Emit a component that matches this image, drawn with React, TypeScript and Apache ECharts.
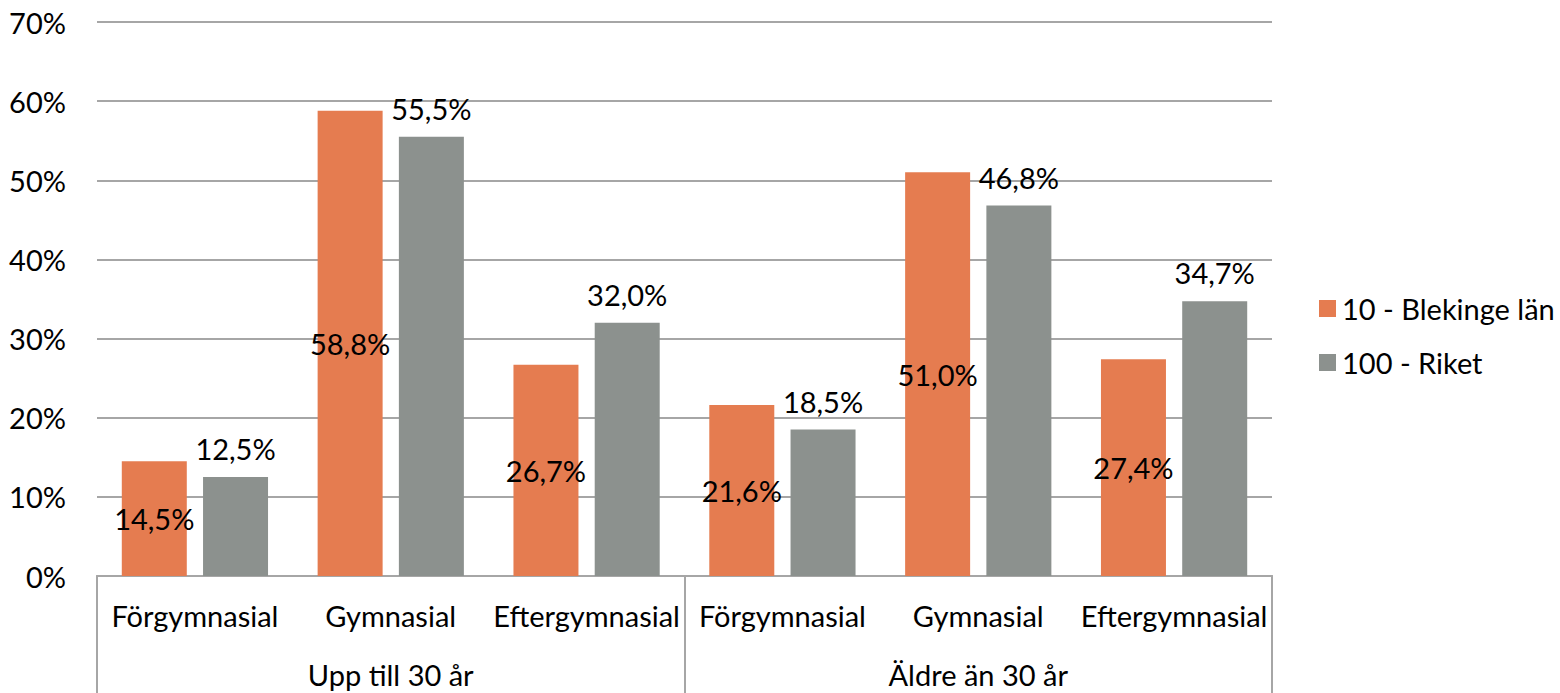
import React, { useEffect, useRef } from "react";
import * as echarts from "echarts";

const categories = ["Förgymnasial", "Gymnasial", "Eftergymnasial", "Förgymnasial", "Gymnasial", "Eftergymnasial"];
const groups = ["Upp till 30 år", "Äldre än 30 år"];
const seriesNames = ["10 - Blekinge län", "100 - Riket"];
const blekinge = [14.5, 58.8, 26.7, 21.6, 51.0, 27.4];
const riket = [12.5, 55.5, 32.0, 18.5, 46.8, 34.7];
const yTicks = [0, 10, 20, 30, 40, 50, 60, 70];

const FONT = "Lato";
const FS = 29;
const ORANGE = "#E57C50";
const GRAY = "#8C918E";
const LINE = "#A6A6A6";

const fmt = (v: number) => v.toFixed(1).replace(".", ",") + "%";

export default function App() {
  const ref = useRef<HTMLDivElement>(null);
  useEffect(() => {
    document.body.style.margin = "0";
    const chart = echarts.init(ref.current!, null, { renderer: "svg" });
    chart.setOption({
      animation: false,
      textStyle: { fontFamily: FONT },
      grid: { left: 97, right: 288, top: 22, bottom: 117, containLabel: false },
      legend: {
        orient: "vertical",
        left: 1314,
        top: 289,
        itemWidth: 17,
        itemHeight: 17,
        itemGap: 25,
        icon: "rect",
        textStyle: { fontFamily: FONT, fontSize: FS, color: "#000", padding: [0, 0, 0, 1] },
        data: seriesNames,
      },
      xAxis: [
        {
          type: "category",
          data: categories,
          position: "bottom",
          axisLine: { show: true, lineStyle: { color: LINE, width: 2 } },
          axisTick: { show: false },
          axisLabel: { color: "#000", fontSize: FS, fontFamily: FONT, margin: 25, interval: 0 },
        },
        {
          type: "category",
          data: groups,
          position: "bottom",
          axisLine: { show: true, lineStyle: { color: LINE, width: 2 } },
          axisTick: { show: true, length: 117, interval: 0, lineStyle: { color: LINE, width: 2 } },
          axisLabel: { color: "#000", fontSize: FS, fontFamily: FONT, margin: 84, interval: 0 },
        },
      ],
      yAxis: {
        type: "value",
        min: 0,
        max: 70,
        interval: 10,
        axisLine: { show: false },
        axisTick: { show: false },
        splitLine: { lineStyle: { color: LINE, width: 2 } },
        axisLabel: {
          color: "#000",
          fontSize: FS,
          fontFamily: FONT,
          margin: 31,
          formatter: (v: number) => (yTicks.includes(v) ? v + "%" : ""),
        },
      },
      series: [
        {
          name: seriesNames[0],
          type: "bar",
          xAxisIndex: 0,
          data: blekinge,
          barWidth: 65,
          barGap: "25%",
          itemStyle: { color: ORANGE },
          label: {
            show: true,
            position: "inside",
            color: "#000",
            fontSize: FS,
            fontFamily: FONT,
            formatter: (p: any) => fmt(p.value),
          },
        },
        {
          name: seriesNames[1],
          type: "bar",
          xAxisIndex: 0,
          data: riket,
          barWidth: 65,
          barGap: "25%",
          itemStyle: { color: GRAY },
          label: {
            show: true,
            position: "top",
            distance: 14,
            color: "#000",
            fontSize: FS,
            fontFamily: FONT,
            formatter: (p: any) => fmt(p.value),
          },
        },
      ],
    });
    return () => chart.dispose();
  }, []);
  return <div ref={ref} style={{ width: 1560, height: 693 }} />;
}
